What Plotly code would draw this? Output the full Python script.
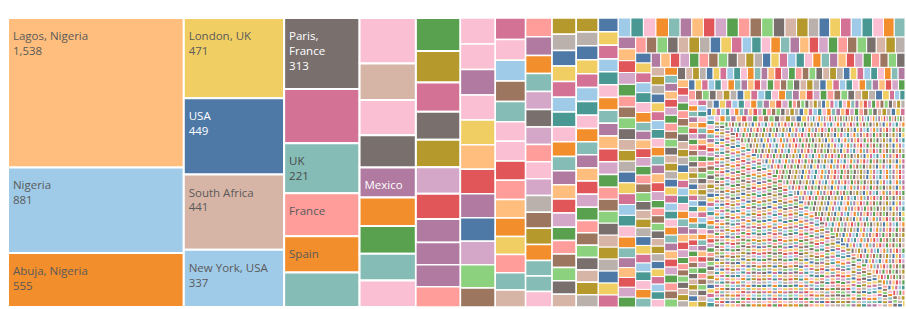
import plotly.graph_objects as go

# ---- labelled / read cells (largest first) ----
major_labels = ["Lagos, Nigeria", "Nigeria", "Abuja, Nigeria", "London, UK", "USA",
                "South Africa", "New York, USA", "Paris, France", "", "UK",
                "France", "Spain", ""]
major_values = [1538, 881, 555, 471, 449, 441, 337, 313, 240, 221, 190, 160, 152]
major_lines = [["Lagos, Nigeria", "1,538"], ["Nigeria", "881"], ["Abuja, Nigeria", "555"],
               ["London, UK", "471"], ["USA", "449"], ["South Africa", "441"],
               ["New York, USA", "337"], ["Paris,", "France", "313"], [], ["UK", "221"],
               ["France"], ["Spain"], []]
major_colors = ["#FFBE7D", "#A0CBE8", "#F28E2B", "#F1CE63", "#4E79A7", "#D7B5A6", "#A0CBE8",
                "#79706E", "#D37295", "#86BCB6", "#FF9D9A", "#F28E2B", "#86BCB6"]
major_textcolor = ["#5a5a5a", "#5a5a5a", "#5a5a5a", "#5a5a5a", "#FFFFFF", "#5a5a5a", "#5a5a5a",
                   "#FFFFFF", "#5a5a5a", "#4a4a4a", "#5a5a5a", "#5a5a5a", "#5a5a5a"]

# ---- mid-sized cells, column by column (estimated) ----
col4_values = [150, 120, 117, 106, 99, 94, 91, 89, 87]
col4_labels = ["", "", "", "", "Mexico", "", "", "", ""]
col4_colors = ["#FABFD2", "#D7B5A6", "#FABFD2", "#79706E", "#B07AA1", "#F28E2B", "#59A14F", "#86BCB6", "#FABFD2"]
col5_values = [86, 82, 76, 73, 72, 69, 66, 61, 58, 57]
col5_colors = ["#59A14F", "#B6992D", "#D37295", "#79706E", "#B6992D", "#D4A6C8", "#E15759", "#B07AA1", "#B07AA1", "#B07AA1"]
col6_values = [53, 53, 52, 52, 51, 51, 50, 50, 49, 48, 48, 47]
col6_colors = ["#FF9D9A", "#FABFD2", "#FABFD2", "#B07AA1", "#FABFD2", "#F1CE63", "#FFBE7D", "#E15759", "#B07AA1", "#4E79A7", "#D4A6C8", "#8CD17D"]
col7_values = [39, 38, 37, 37, 36, 36, 35, 35, 34, 34, 33, 33, 32, 32, 31]
col7_colors = ["#9D7660", "#D37295", "#FABFD2", "#A0CBE8", "#9D7660", "#86BCB6", "#FABFD2", "#FABFD2", "#E15759", "#FF9D9A", "#FFBE7D", "#F28E2B", "#F1CE63", "#FF9D9A", "#86BCB6"]
col8_values = [30, 29, 29, 28, 28, 28, 27, 27, 27, 26, 26, 26, 25, 25, 25, 24, 24, 24]
col8_colors = ["#D7B5A6", "#FF9D9A", "#B07AA1", "#F28E2B", "#86BCB6", "#D4A6C8", "#79706E", "#D4A6C8", "#FF9D9A", "#FABFD2", "#D4A6C8", "#BAB0AC", "#9D7660", "#B6992D", "#F28E2B", "#86BCB6", "#86BCB6", "#FABFD2"]
col9_values = [23, 23, 22, 22, 22, 21, 21, 21, 21, 20, 20, 20, 20, 20, 19, 19, 19, 19, 19]
col10_values = [18, 18, 18, 18, 18, 18, 18, 18, 17, 17, 17, 17, 17, 17, 17, 17, 16, 16, 16, 16, 16, 16]
col11_values = [16, 16, 16, 16, 15, 15, 15, 15, 15, 15, 15, 15, 15, 15,
                14, 14, 14, 14, 14, 14, 14, 14, 14, 14]
col12_values = [14, 14, 14, 14, 13, 13, 13, 13, 13, 13, 13, 13, 13, 13, 13, 13,
                12, 12, 12, 12, 12, 12, 12, 12, 12, 12]
col13_values = [12, 12, 12, 12, 11, 11, 11, 11, 11, 11, 11, 11, 11, 11, 11, 11, 11, 11,
                10, 10, 10, 10, 10, 10, 10, 10, 10, 10]
col14_values = [10, 10, 10, 10, 10, 10, 9, 9, 9, 9, 9, 9, 9, 9, 9, 9, 9, 9,
                9, 9, 9, 9, 9, 9, 9, 9, 9, 9, 9, 9]

# ---- long tail: (value, number of locations with that count) ----
tail_value = [8, 7, 6, 5, 4, 3, 2, 1]
tail_count = [30, 35, 45, 55, 70, 90, 130, 2100]

palette = ["#4E79A7", "#A0CBE8", "#F28E2B", "#FFBE7D", "#59A14F", "#8CD17D", "#B6992D",
           "#F1CE63", "#499894", "#86BCB6", "#E15759", "#FF9D9A", "#79706E", "#BAB0AC",
           "#D37295", "#FABFD2", "#B07AA1", "#D4A6C8", "#9D7660", "#D7B5A6"]

SPACER = "<span style='font-size:4px'>\u00a0</span><br>"
def cell_text(lines):
    if not lines:
        return ""
    return SPACER + "<br>".join("\u2009" + s for s in lines)

values, texts, colors, tcolors, names = [], [], [], [], []

def add(vals, labs=None, cols=None, tcol="#5a5a5a"):
    for i, v in enumerate(vals):
        lab = labs[i] if labs else ""
        values.append(v)
        names.append(lab if lab else "location %d" % len(values))
        texts.append(cell_text([lab]) if lab else "")
        colors.append(cols[i] if cols else palette[(len(values) * 7) % 20])
        tcolors.append("#FFFFFF" if lab == "Mexico" else tcol)

for i, v in enumerate(major_values):
    values.append(v)
    names.append(major_labels[i] if major_labels[i] else "location %d" % len(values))
    texts.append(cell_text(major_lines[i]))
    colors.append(major_colors[i])
    tcolors.append(major_textcolor[i])
add(col4_values, col4_labels, col4_colors)
add(col5_values, None, col5_colors)
add(col6_values, None, col6_colors)
add(col7_values, None, col7_colors)
add(col8_values, None, col8_colors)
for arr in [col9_values, col10_values, col11_values, col12_values, col13_values, col14_values]:
    add(arr)
for v, c in zip(tail_value, tail_count):
    add([v] * c)

n = len(values)
ids = ["root"] + ["c%d" % i for i in range(n)]
labels = [""] + names
parents = [""] + ["root"] * n
all_values = [0] + values
all_text = [""] + texts
all_colors = ["#FFFFFF"] + colors
all_tcolors = ["#5a5a5a"] + tcolors
linew = [0] + [2 if v >= 60 else (1.5 if v >= 15 else 1) for v in values]

fig = go.Figure(go.Treemap(
    ids=ids, labels=labels, parents=parents, values=all_values,
    branchvalues="remainder",
    text=all_text, textinfo="text", textposition="top left",
    textfont=dict(family="Open Sans, Lato, sans-serif", size=11.5, color=all_tcolors),
    marker=dict(colors=all_colors, line=dict(color="white", width=linew),
                pad=dict(t=0, l=0, r=0, b=0)),
    tiling=dict(packing="squarify", squarifyratio=1.618, pad=0),
    pathbar=dict(visible=False), sort=True,
    hovertemplate="%{label}<br>%{value}<extra></extra>",
))
fig.update_layout(width=906, height=309, margin=dict(l=8, r=1, t=18, b=2),
                  paper_bgcolor="white", plot_bgcolor="white")
fig.write_html("out.html", config={"displayModeBar": False},
               post_script="document.body.style.margin='0';")
